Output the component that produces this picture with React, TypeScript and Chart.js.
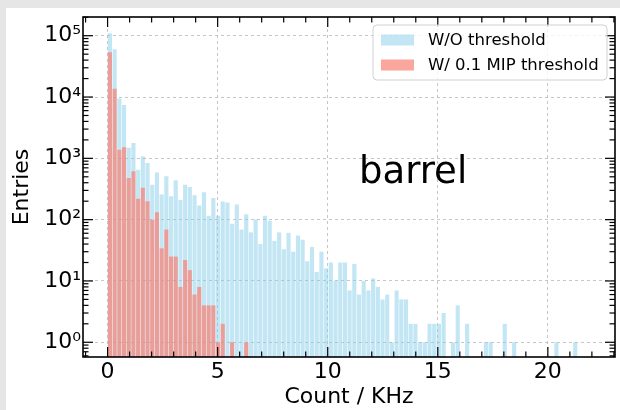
import React, { useEffect, useRef } from "react";
import { Chart, registerables } from "chart.js";

Chart.register(...registerables);

const FONT = "'DejaVu Sans', 'Liberation Sans', sans-serif";

// Histogram binning (100 equal bins from 0 to 21.35 KHz)
const binLow = 0;
const binHigh = 21.35;
const binCount = 100;

// Entries per bin, no threshold
const withoutThreshold = [
  110000, 60000, 9500, 7400, 1490, 1780, 650, 1080, 840, 370,
  590, 256, 510, 240, 440, 210, 370, 340, 250, 170,
  280, 116, 226, 116, 198, 190, 86, 176, 69, 122,
  62, 101, 40, 116, 96, 45, 62, 33, 61, 30,
  55, 47, 21, 36, 14, 30, 16, 20, 10, 20,
  20, 7, 19, 6, 10, 7, 11, 8, 5, 6,
  1, 7, 5, 5, 2, 2, 1, 1, 2, 2,
  2, 3, 0, 1, 4, 0, 2, 0, 0, 0,
  1, 1, 0, 0, 2, 0, 1, 0, 0, 0,
  0, 0, 0, 0, 0, 1, 0, 0, 0, 1,
];

// Entries per bin, 0.1 MIP threshold (first 30 bins, rest empty)
const withMipThreshold = [
  54000, 13700, 1380, 1520, 480, 615, 220, 330, 200, 100,
  132, 34, 69, 25, 25, 8, 22, 15, 6, 8,
  4, 4, 4, 1, 2, 0, 1, 0, 0, 1,
];

const xTickValues = [0, 5, 10, 15, 20];
const yTickValues = [1, 10, 100, 1000, 10000, 100000];
const seriesLabels = ["W/O threshold", "W/ 0.1 MIP threshold"];
const regionLabel = "barrel";
const xTitle = "Count / KHz";
const yTitle = "Entries";

const SUP: Record<string, string> = {
  "0": "\u2070", "1": "\u00B9", "2": "\u00B2", "3": "\u00B3", "4": "\u2074",
  "5": "\u2075", "6": "\u2076", "7": "\u2077", "8": "\u2078", "9": "\u2079", "-": "\u207B",
};

function supText(n: number) {
  return String(n).split("").map((c) => SUP[c] || c).join("");
}

function toPoints(values: number[]) {
  const w = (binHigh - binLow) / binCount;
  return values.map((v, i) => ({ x: binLow + (i + 0.5) * w, y: v > 0 ? v : null }));
}

const BLUE = "rgba(135,206,235,0.5)";
const RED = "rgba(250,128,114,0.7)";

const decorPlugin = {
  id: "decor",
  afterDraw(chart: any) {
    const { ctx, chartArea: a, scales } = chart;
    const xs = scales.x;
    const ys = scales.y;
    ctx.save();
    ctx.strokeStyle = "#000";
    ctx.lineWidth = 1.2;
    const seg = (x1: number, y1: number, x2: number, y2: number) => {
      ctx.beginPath();
      ctx.moveTo(x1, y1);
      ctx.lineTo(x2, y2);
      ctx.stroke();
    };
    // x ticks (inward, bottom and top)
    for (let v = Math.ceil(xs.min); v <= xs.max; v++) {
      const px = xs.getPixelForValue(v);
      const len = v % 5 === 0 ? 10 : 5.5;
      seg(px, a.bottom, px, a.bottom - len);
      seg(px, a.top, px, a.top + len);
    }
    // y ticks (inward, left and right)
    for (let k = -1; k <= 6; k++) {
      for (let m = 1; m <= 9; m++) {
        const v = m * Math.pow(10, k);
        if (v < ys.min || v > ys.max) continue;
        const py = ys.getPixelForValue(v);
        const len = m === 1 ? 10 : 5.5;
        seg(a.left, py, a.left + len, py);
        seg(a.right, py, a.right - len, py);
      }
    }
    // frame
    ctx.lineWidth = 1.6;
    ctx.strokeRect(a.left, a.top, a.right - a.left, a.bottom - a.top);

    // legend
    const bw = 234;
    const bh = 55;
    const bx = a.right - 242;
    const by = a.top + 8;
    const r = 4;
    ctx.beginPath();
    ctx.moveTo(bx + r, by);
    ctx.lineTo(bx + bw - r, by);
    ctx.arcTo(bx + bw, by, bx + bw, by + r, r);
    ctx.lineTo(bx + bw, by + bh - r);
    ctx.arcTo(bx + bw, by + bh, bx + bw - r, by + bh, r);
    ctx.lineTo(bx + r, by + bh);
    ctx.arcTo(bx, by + bh, bx, by + bh - r, r);
    ctx.lineTo(bx, by + r);
    ctx.arcTo(bx, by, bx + r, by, r);
    ctx.closePath();
    ctx.fillStyle = "rgba(255,255,255,0.8)";
    ctx.fill();
    ctx.strokeStyle = "#d0d0d0";
    ctx.lineWidth = 1;
    ctx.stroke();

    const colors = [BLUE, RED];
    ctx.font = `16.5px ${FONT}`;
    ctx.textBaseline = "middle";
    ctx.textAlign = "left";
    seriesLabels.forEach((lab, i) => {
      const cy = by + 15 + i * 25;
      ctx.fillStyle = colors[i];
      ctx.fillRect(bx + 8, cy - 5.5, 33, 11);
      ctx.fillStyle = "#000";
      ctx.fillText(lab, bx + 55, cy + 1);
    });

    // region label
    ctx.font = `37px ${FONT}`;
    ctx.textBaseline = "alphabetic";
    ctx.fillStyle = "#000";
    ctx.fillText(regionLabel, a.left + 276, a.top + 166);
    ctx.restore();
  },
};

export default function App() {
  const ref = useRef<HTMLCanvasElement | null>(null);

  useEffect(() => {
    if (!ref.current) return;
    const tickFont = { family: FONT, size: 22 };
    const chart = new Chart(ref.current, {
      type: "bar",
      data: {
        datasets: [
          {
            label: seriesLabels[0],
            data: toPoints(withoutThreshold) as any,
            backgroundColor: BLUE,
            grouped: false,
            order: 1,
            barPercentage: 0.88,
            categoryPercentage: 1,
          } as any,
          {
            label: seriesLabels[1],
            data: toPoints(withMipThreshold) as any,
            backgroundColor: RED,
            grouped: false,
            order: 0,
            barPercentage: 0.88,
            categoryPercentage: 1,
          } as any,
        ],
      },
      options: {
        responsive: false,
        devicePixelRatio: 1,
        animation: false,
        layout: { padding: { top: 17, right: 5, left: 0, bottom: 0 } },
        plugins: { legend: { display: false }, tooltip: { enabled: false } },
        scales: {
          x: {
            type: "linear",
            offset: false,
            min: -1.117,
            max: 23.05,
            afterBuildTicks: (s: any) => {
              s.ticks = xTickValues.map((v) => ({ value: v }));
            },
            afterFit: (s: any) => {
              s.height = 53;
            },
            ticks: {
              font: tickFont,
              color: "#000",
              padding: 2,
              maxRotation: 0,
              autoSkip: false,
              callback: (v: any) => String(v),
            },
            grid: { color: "#b8b8b8", lineWidth: 0.8, drawTicks: false, offset: false },
            border: { display: false, dash: [3, 3] },
            title: {
              display: true,
              text: xTitle,
              font: tickFont,
              color: "#000",
              padding: { top: 0, bottom: 0 },
            },
          },
          y: {
            type: "logarithmic",
            min: 0.575,
            max: 202000,
            afterBuildTicks: (s: any) => {
              s.ticks = yTickValues.map((v) => ({ value: v }));
            },
            afterFit: (s: any) => {
              s.width = 83;
            },
            ticks: {
              font: tickFont,
              color: "#000",
              padding: 2,
              autoSkip: false,
              callback: (v: any) => "10" + supText(Math.round(Math.log10(Number(v)))),
            },
            grid: { color: "#b8b8b8", lineWidth: 0.8, drawTicks: false },
            border: { display: false, dash: [3, 3] },
            title: {
              display: true,
              text: yTitle,
              font: tickFont,
              color: "#000",
              padding: { top: 9, bottom: 0 },
            },
          },
        },
      } as any,
      plugins: [decorPlugin],
    });
    return () => chart.destroy();
  }, []);

  return (
    <div
      style={{
        position: "fixed",
        left: 0,
        top: 0,
        width: 620,
        height: 410,
        background: "#e6e6e6",
        overflow: "hidden",
      }}
    >
      <div
        style={{ position: "absolute", left: 6, top: 8, right: 0, bottom: 0, background: "#fff" }}
      />
      <canvas
        ref={ref}
        width={620}
        height={410}
        style={{ position: "absolute", left: 0, top: 0, width: 620, height: 410 }}
      />
    </div>
  );
}
